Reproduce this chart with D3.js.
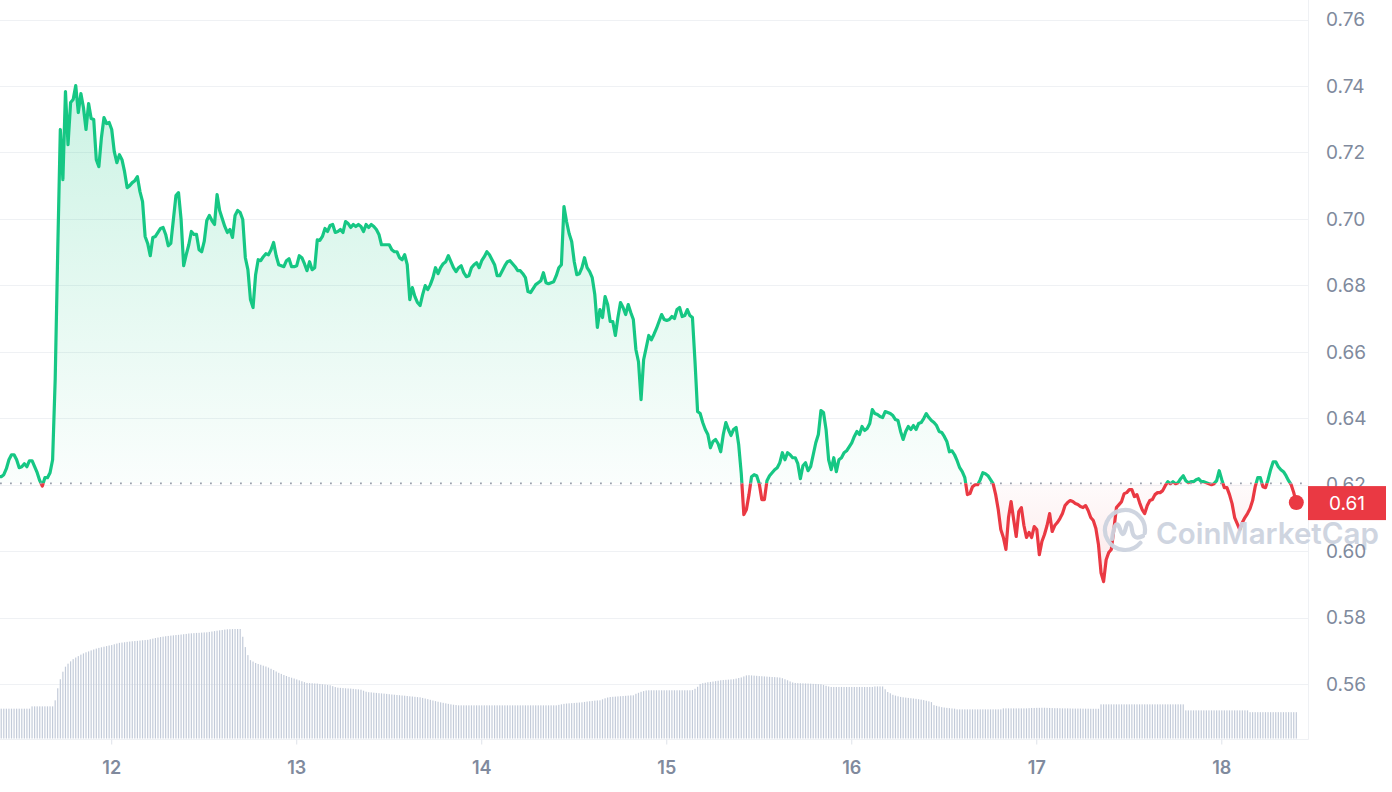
<!DOCTYPE html>
<html><head><meta charset="utf-8">
<script src="https://cdn.jsdelivr.net/npm/d3@7/dist/d3.min.js"></script>
<style>
html,body{margin:0;padding:0;background:#fff;}
svg{display:block;font-family:Inter,"Noto Sans",sans-serif;}
</style></head><body>
<svg id="chart" width="1392" height="792"></svg>
<script>
// ---- data ----
const startTime = Date.UTC(2023, 9, 11, 9, 20); // first sample
const stepMinutes = 20;
const prices = [
.6224,.6224,.6230,.6248,.6275,.6290,.6290,.6275,.6251,.6254,
.6263,.6254,.6272,.6272,.6254,.6236,.6212,.6196,.6221,.6221,
.6236,.6275,.6516,.6907,.7269,.7118,.7383,.7223,.7350,.7359,
.7401,.7320,.7377,.7335,.7269,.7347,.7302,.7299,.7178,.7157,
.7245,.7305,.7287,.7290,.7269,.7202,.7169,.7193,.7178,.7142,
.7094,.7100,.7109,.7115,.7127,.7082,.7052,.6947,.6926,.6889,
.6944,.6947,.6959,.6971,.6974,.6953,.6919,.6926,.6998,.7070,
.7079,.6998,.6859,.6892,.6922,.6962,.6953,.6953,.6907,.6901,
.6932,.6995,.7010,.6995,.6983,.7073,.7025,.7001,.6977,.6959,
.6968,.6944,.7010,.7025,.7019,.6998,.6883,.6847,.6757,.6733,
.6832,.6877,.6874,.6886,.6895,.6892,.6907,.6929,.6889,.6862,
.6859,.6856,.6874,.6880,.6856,.6856,.6859,.6889,.6883,.6865,
.6844,.6871,.6847,.6853,.6937,.6935,.6947,.6971,.6962,.6980,
.6983,.6959,.6962,.6968,.6959,.6992,.6986,.6974,.6983,.6977,
.6983,.6977,.6962,.6983,.6974,.6983,.6977,.6968,.6953,.6922,
.6922,.6922,.6922,.6907,.6901,.6901,.6883,.6877,.6892,.6862,
.6757,.6793,.6766,.6748,.6739,.6772,.6799,.6787,.6802,.6823,
.6853,.6835,.6853,.6865,.6871,.6889,.6871,.6853,.6841,.6853,
.6859,.6838,.6826,.6829,.6853,.6862,.6868,.6853,.6874,.6886,
.6901,.6892,.6877,.6862,.6829,.6829,.6844,.6859,.6871,.6874,
.6865,.6856,.6844,.6844,.6835,.6823,.6781,.6778,.6790,.6802,
.6808,.6814,.6838,.6808,.6805,.6808,.6811,.6829,.6853,.6862,
.7037,.6992,.6956,.6932,.6871,.6832,.6835,.6853,.6883,.6853,
.6841,.6823,.6772,.6673,.6727,.6703,.6766,.6742,.6691,.6691,
.6649,.6703,.6748,.6733,.6712,.6742,.6718,.6697,.6606,.6570,
.6456,.6576,.6612,.6649,.6636,.6652,.6670,.6691,.6712,.6697,
.6694,.6697,.6706,.6700,.6727,.6733,.6706,.6709,.6727,.6709,
.6703,.6570,.6420,.6414,.6387,.6366,.6351,.6311,.6330,.6336,
.6323,.6299,.6351,.6387,.6366,.6348,.6366,.6372,.6320,.6233,
.6110,.6125,.6170,.6224,.6230,.6227,.6203,.6155,.6155,.6212,
.6227,.6236,.6245,.6251,.6266,.6296,.6275,.6296,.6290,.6281,
.6281,.6263,.6218,.6257,.6266,.6242,.6254,.6290,.6326,.6351,
.6423,.6417,.6366,.6275,.6245,.6281,.6239,.6275,.6281,.6296,
.6302,.6314,.6326,.6345,.6360,.6351,.6375,.6363,.6369,.6384,
.6426,.6414,.6411,.6405,.6402,.6420,.6417,.6414,.6408,.6396,
.6393,.6360,.6336,.6360,.6375,.6366,.6378,.6366,.6384,.6387,
.6399,.6414,.6402,.6393,.6387,.6378,.6360,.6357,.6345,.6330,
.6299,.6302,.6290,.6272,.6251,.6239,.6221,.6170,.6173,.6194,
.6200,.6200,.6215,.6236,.6233,.6227,.6215,.6203,.6170,.6125,
.6065,.6041,.6005,.6101,.6149,.6095,.6044,.6119,.6131,.6077,
.6041,.6056,.6041,.6074,.6065,.5989,.6029,.6050,.6077,.6113,
.6059,.6077,.6086,.6098,.6113,.6137,.6146,.6152,.6149,.6143,
.6140,.6134,.6131,.6137,.6122,.6101,.6092,.6068,.6020,.5935,
.5908,.5974,.5996,.6005,.6065,.6131,.6140,.6149,.6173,.6176,
.6185,.6185,.6164,.6170,.6146,.6125,.6113,.6137,.6152,.6155,
.6170,.6176,.6176,.6182,.6197,.6209,.6203,.6209,.6203,.6206,
.6218,.6227,.6212,.6206,.6209,.6209,.6215,.6218,.6209,.6209,
.6206,.6203,.6200,.6203,.6212,.6242,.6215,.6191,.6191,.6170,
.6143,.6101,.6083,.6065,.6086,.6101,.6113,.6128,.6152,.6194,
.6221,.6221,.6194,.6191,.6215,.6245,.6269,.6269,.6254,.6245,
.6239,.6227,.6212,.6200,.6176,.6146
];
// 24h volume (millions USD), one bar per sample
const volumes = [
297,297,297,297,297,297,297,297,297,297,
297,297,297,320,320,320,320,320,320,320,
320,320,380,500,590,665,715,745,768,790,
806,820,835,847,858,867,877,886,895,902,
908,914,920,926,930,938,945,952,955,958,
962,965,968,970,972,975,978,980,982,988,
994,1000,1005,1010,1014,1018,1021,1024,1027,1030,
1032,1035,1038,1041,1045,1047,1049,1051,1052,1054,
1056,1057,1061,1065,1069,1073,1077,1080,1084,1087,
1088,1089,1090,1090,1090,1013,910,830,780,766,
752,742,734,725,717,706,694,681,667,654,
643,632,622,613,605,597,588,579,570,561,
553,551,550,548,547,543,540,537,533,530,
521,512,506,504,502,500,498,497,494,491,
489,486,476,466,461,459,456,454,451,449,
447,444,441,438,436,433,431,428,426,423,
420,418,415,412,410,404,398,392,385,378,
372,366,360,355,350,345,340,336,333,330,
330,330,330,330,330,330,330,330,330,330,
330,330,330,330,330,330,330,330,330,330,
330,330,330,330,330,330,330,330,330,330,
330,330,330,330,330,330,330,330,335,340,
345,348,350,352,354,356,358,360,364,368,
371,374,377,379,380,390,400,408,413,415,
417,419,421,423,425,427,429,430,445,455,
465,472,478,480,480,480,480,480,480,480,
480,480,480,480,480,480,480,480,480,480,
482,495,515,543,550,555,560,563,567,571,
575,580,582,584,586,588,590,596,602,608,
618,628,630,628,626,624,621,620,618,616,
614,612,611,609,607,600,590,580,568,558,
553,551,550,549,548,547,546,544,543,541,
540,533,525,518,513,513,513,513,513,513,
513,513,513,513,513,513,513,513,513,513,
513,518,518,518,518,490,463,450,435,427,
420,414,410,407,404,401,398,395,391,387,
382,376,370,362,332,325,318,312,308,305,
302,299,297,290,290,290,290,290,290,290,
290,290,290,290,290,290,290,290,290,290,
290,300,300,300,300,300,300,300,300,300,
300,302,304,304,305,305,306,306,305,304,
303,302,302,301,300,300,300,299,298,298,
298,298,297,297,297,296,296,296,296,340,
340,340,340,340,340,340,340,340,340,340,
340,340,340,340,340,340,340,340,340,340,
340,340,340,340,340,340,340,340,340,340,
340,340,280,280,280,280,280,280,280,280,
280,280,280,280,280,280,280,280,280,280,
280,280,280,280,280,280,280,262,262,262,
262,262,262,262,262,262,262,262,262,262,
262,262,262,262,262,262
];
const yTickValues = [0.56, 0.58, 0.60, 0.62, 0.64, 0.66, 0.68, 0.70, 0.72, 0.74, 0.76];
const xTickDays = [12, 13, 14, 15, 16, 17, 18];
const openPrice = 0.6204;
const lastPriceLabel = "0.61";
const watermarkText = "CoinMarketCap";

// ---- layout ----
const plotRight = 1308, plotBottom = 739.5;
const green = "#16c784", red = "#ea3943", axisText = "#808a9d", gridColor = "#eff1f4";

const svg = d3.select("#chart");
const times = prices.map((_, i) => new Date(startTime + i * stepMinutes * 60000));
const data = prices.map((p, i) => ({t: times[i], p, v: volumes[i]}));

const x = d3.scaleUtc()
  .domain([new Date(Date.UTC(2023, 9, 11, 9, 30, 30)), new Date(Date.UTC(2023, 9, 18, 11, 11))])
  .range([0, plotRight]);
const y = d3.scaleLinear().domain([0.56, 0.76]).range([684, 19.5]);
const yVol = d3.scaleLinear().domain([0, d3.max(volumes)]).range([plotBottom - 1, 629]);

const defs = svg.append("defs");
defs.append("clipPath").attr("id", "plotClip").append("rect")
  .attr("x", 0).attr("y", 0).attr("width", plotRight).attr("height", plotBottom);
const yOpen = y(openPrice);
defs.append("clipPath").attr("id", "aboveClip").append("rect")
  .attr("x", 0).attr("y", 0).attr("width", plotRight).attr("height", yOpen);
defs.append("clipPath").attr("id", "belowClip").append("rect")
  .attr("x", 0).attr("y", yOpen).attr("width", plotRight).attr("height", plotBottom - yOpen);

const gG = defs.append("linearGradient").attr("id", "gGreen")
  .attr("gradientUnits", "userSpaceOnUse").attr("x1", 0).attr("x2", 0)
  .attr("y1", y(d3.max(prices))).attr("y2", yOpen);
gG.append("stop").attr("offset", 0).attr("stop-color", green).attr("stop-opacity", 0.22);
gG.append("stop").attr("offset", 1).attr("stop-color", green).attr("stop-opacity", 0.02);
const gR = defs.append("linearGradient").attr("id", "gRed")
  .attr("gradientUnits", "userSpaceOnUse").attr("x1", 0).attr("x2", 0)
  .attr("y1", yOpen).attr("y2", y(d3.min(prices)));
gR.append("stop").attr("offset", 0).attr("stop-color", red).attr("stop-opacity", 0.02);
gR.append("stop").attr("offset", 1).attr("stop-color", red).attr("stop-opacity", 0.12);

// gridlines
svg.append("g").selectAll("line").data(yTickValues).join("line")
  .attr("x1", 0).attr("x2", plotRight)
  .attr("y1", d => Math.round(y(d)) + 0.5).attr("y2", d => Math.round(y(d)) + 0.5)
  .attr("stroke", gridColor).attr("stroke-width", 1);
// frame right + bottom
svg.append("line").attr("x1", plotRight + 0.5).attr("x2", plotRight + 0.5).attr("y1", 0).attr("y2", plotBottom)
  .attr("stroke", gridColor);
svg.append("line").attr("x1", 0).attr("x2", plotRight + 0.5).attr("y1", plotBottom).attr("y2", plotBottom)
  .attr("stroke", gridColor);

// volume bars
svg.append("g").attr("clip-path", "url(#plotClip)").selectAll("rect").data(data).join("rect")
  .attr("x", d => x(d.t) - 0.6).attr("width", 1.2)
  .attr("y", d => yVol(d.v)).attr("height", d => plotBottom - 1 - yVol(d.v))
  .attr("fill", "#c3cbd9");

// areas
const area = d3.area().x(d => x(d.t)).y0(yOpen).y1(d => y(d.p));
const plotG = svg.append("g").attr("clip-path", "url(#plotClip)");
plotG.append("g").attr("clip-path", "url(#aboveClip)").append("path").datum(data)
  .attr("d", area).attr("fill", "url(#gGreen)");
plotG.append("g").attr("clip-path", "url(#belowClip)").append("path").datum(data)
  .attr("d", area).attr("fill", "url(#gRed)");

// watermark
const wm = svg.append("g").attr("opacity", 0.95);
{
  const cx = 1125, cy = 530, r = 20;
  const p = d3.path();
  p.arc(cx, cy, r, Math.PI * 0.22, Math.PI * 2.05);
  wm.append("path").attr("d", p.toString()).attr("fill", "none")
    .attr("stroke", "#cdd3df").attr("stroke-width", 4.2).attr("stroke-linecap", "round");
  const w = d3.path();
  w.moveTo(cx - 13, cy + 9);
  w.bezierCurveTo(cx - 11, cy - 6, cx - 8, cy - 10, cx - 5, cy - 1);
  w.bezierCurveTo(cx - 3, cy + 6, cx - 1, cy + 6, cx + 1, cy - 3);
  w.bezierCurveTo(cx + 3, cy - 10, cx + 6, cy - 8, cx + 7, cy);
  w.bezierCurveTo(cx + 8, cy + 8, cx + 12, cy + 9, cx + 18, cy + 6);
  wm.append("path").attr("d", w.toString()).attr("fill", "none")
    .attr("stroke", "#cdd3df").attr("stroke-width", 4.2).attr("stroke-linecap", "round").attr("stroke-linejoin", "round");
  wm.append("text").attr("x", 1156).attr("y", 544).text(watermarkText)
    .attr("font-size", 29.5).attr("font-weight", 600).attr("fill", "#cdd3df");
}

// baseline (open price)
svg.append("line").attr("x1", 0).attr("x2", plotRight).attr("y1", yOpen).attr("y2", yOpen)
  .attr("stroke", "#9aa1ad").attr("stroke-width", 1.8).attr("stroke-dasharray", "1.8 8.2");

// price line split at open price
const line = d3.line().x(d => x(d.t)).y(d => y(d.p));
plotG.append("g").attr("clip-path", "url(#aboveClip)").append("path").datum(data)
  .attr("d", line).attr("fill", "none").attr("stroke", green).attr("stroke-width", 3.2)
  .attr("stroke-linejoin", "round").attr("stroke-linecap", "round");
plotG.append("g").attr("clip-path", "url(#belowClip)").append("path").datum(data)
  .attr("d", line).attr("fill", "none").attr("stroke", red).attr("stroke-width", 3.2)
  .attr("stroke-linejoin", "round").attr("stroke-linecap", "round");

const last = data[data.length - 1];
const lastColor = last.p >= openPrice ? green : red;
svg.append("circle").attr("cx", x(last.t)).attr("cy", y(last.p)).attr("r", 7.5).attr("fill", lastColor);

// y axis labels
svg.append("g").selectAll("text").data(yTickValues).join("text")
  .attr("x", 1326).attr("y", d => y(d)).attr("dy", "0.36em")
  .attr("font-size", 19).attr("fill", axisText)
  .text(d => d3.format(".2f")(d));

// x axis ticks + labels
const xt = svg.append("g");
xTickDays.forEach(dd => {
  const t = new Date(Date.UTC(2023, 9, dd));
  xt.append("line").attr("x1", x(t)).attr("x2", x(t)).attr("y1", plotBottom).attr("y2", plotBottom + 5)
    .attr("stroke", "#dfe3ea");
  xt.append("text").attr("x", x(t)).attr("y", 768).attr("dy", "0.36em")
    .attr("text-anchor", "middle").attr("font-size", 18).attr("font-weight", 600)
    .attr("fill", axisText).text(d3.utcFormat("%-d")(t));
});

// last price tag
const ly = y(last.p);
svg.append("rect").attr("x", plotRight).attr("y", ly - 16.5).attr("width", 78).attr("height", 34)
  .attr("fill", lastColor);
svg.append("text").attr("x", 1347).attr("y", ly + 0.5).attr("dy", "0.36em").attr("text-anchor", "middle")
  .attr("font-size", 19).attr("fill", "#fff").text(lastPriceLabel);
</script>
</body></html>
